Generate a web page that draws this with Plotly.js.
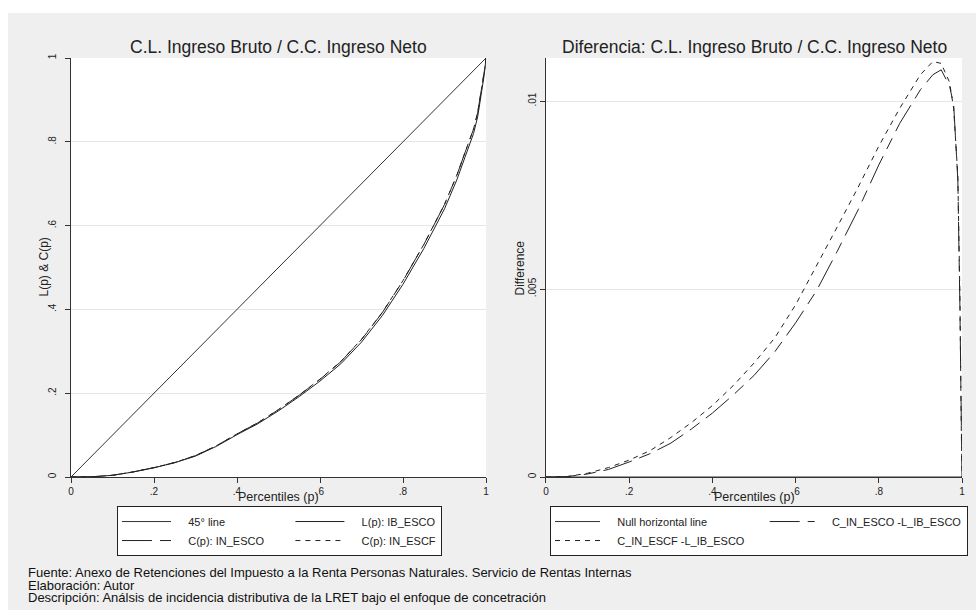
<!DOCTYPE html>
<html><head><meta charset="utf-8">
<script src="https://cdn.plot.ly/plotly-3.0.1.min.js"></script>
<style>
html,body{margin:0;padding:0;background:#fff;width:976px;height:610px;overflow:hidden}
#chart{position:absolute;left:8px;top:13px;width:968px;height:597px}
</style></head><body><div id="chart"></div><script>
// Percentiles (p)
const percentiles = [0, 0.05, 0.1, 0.15, 0.2, 0.25, 0.3, 0.35, 0.4, 0.45, 0.5, 0.55, 0.6, 0.65, 0.7, 0.75, 0.8, 0.85, 0.9, 0.93, 0.95, 0.97, 0.98, 0.99, 0.995, 0.998, 1];
// L(p): IB_ESCO
const lorenzIB_ESCO = [0, 0.0005, 0.004, 0.012, 0.022, 0.034, 0.050, 0.073, 0.101, 0.127, 0.158, 0.192, 0.229, 0.270, 0.322, 0.385, 0.460, 0.545, 0.640, 0.710, 0.765, 0.820, 0.860, 0.920, 0.955, 0.980, 1];
// C(p): IN_ESCO
const concIN_ESCO = [0, 0.00051, 0.00408, 0.0122, 0.0224, 0.03462, 0.0509, 0.07428, 0.1027, 0.12918, 0.1607, 0.19533, 0.2331, 0.27495, 0.328, 0.3921, 0.4683, 0.5544, 0.6503, 0.7207, 0.77583, 0.8304, 0.8699, 0.9279, 0.9595, 0.9813, 1];
// C(p): IN_ESCF
const concIN_ESCF = [0, 0.00051, 0.0041, 0.01225, 0.02245, 0.0347, 0.05105, 0.07445, 0.1029, 0.12943, 0.16103, 0.1957, 0.23358, 0.2756, 0.32865, 0.3927, 0.4688, 0.5548, 0.6507, 0.72105, 0.7761, 0.8305, 0.8698, 0.928, 0.9598, 0.9815, 1];
// C_IN_ESCO - L_IB_ESCO
const diffIN_ESCO = [0, 0.00001, 0.00008, 0.0002, 0.0004, 0.00062, 0.0009, 0.00128, 0.0017, 0.00218, 0.0027, 0.00333, 0.0041, 0.00495, 0.0060, 0.0071, 0.0083, 0.0094, 0.0103, 0.0107, 0.01083, 0.0104, 0.0099, 0.0079, 0.0045, 0.0013, 0];
// C_IN_ESCF - L_IB_ESCO
const diffIN_ESCF = [0, 0.00001, 0.0001, 0.00025, 0.00045, 0.0007, 0.00105, 0.00145, 0.0019, 0.00243, 0.00303, 0.0037, 0.00458, 0.0056, 0.00665, 0.0077, 0.0088, 0.0098, 0.0107, 0.01105, 0.0110, 0.0105, 0.0098, 0.0080, 0.0048, 0.0015, 0];
// reference lines
const diagonalX = [0, 1];
const diagonalY = [0, 1];
const nullLineX = [0, 1];
const nullLineY = [0, 0];

const xTickVals = [0, 0.2, 0.4, 0.6, 0.8, 1];
const xTickText = ['0', '.2', '.4', '.6', '.8', '1'];
const yTickVals = [0, 0.2, 0.4, 0.6, 0.8, 1];
const yTickText = ['0', '.2', '.4', '.6', '.8', '1'];
const y2TickVals = [0, 0.005, 0.01];
const y2TickText = ['0', '.005', '.01'];

const leftTitle = 'C.L. Ingreso Bruto / C.C. Ingreso Neto';
const rightTitle = 'Diferencia: C.L. Ingreso Bruto / C.C. Ingreso Neto';
const xTitle = 'Percentiles (p)';
const yTitleLeft = 'L(p) &amp; C(p)';
const yTitleRight = 'Difference';
const footerLines = [
  'Fuente: Anexo de Retenciones del Impuesto a la Renta Personas Naturales. Servicio de Rentas Internas',
  'Elaboración: Autor',
  'Descripción: Análsis de incidencia distributiva de la LRET bajo el enfoque de concetración'
];

const FONT = 'Liberation Sans, Arial, sans-serif';
const INK = '#222';
const sp = n => '\u00a0'.repeat(n);
const LEAD = sp(4);

const traces = [
  {x: diagonalX, y: diagonalY, name: LEAD + '45° line', mode: 'lines', line: {color: '#333', width: 1}, legendgroup: 'a', xaxis: 'x', yaxis: 'y', legend: 'legend'},
  {x: percentiles, y: lorenzIB_ESCO, name: LEAD + 'L(p): IB_ESCO', mode: 'lines', line: {color: INK, width: 1}, legendgroup: 'b', xaxis: 'x', yaxis: 'y', legend: 'legend'},
  {x: percentiles, y: concIN_ESCO, name: LEAD + 'C(p): IN_ESCO' + sp(7), mode: 'lines', line: {color: INK, width: 1, dash: '30px,8px,12px,8px'}, legendgroup: 'a', xaxis: 'x', yaxis: 'y', legend: 'legend'},
  {x: percentiles, y: concIN_ESCF, name: LEAD + 'C(p): IN_ESCF', mode: 'lines', line: {color: INK, width: 1, dash: '5px,5px'}, legendgroup: 'b', xaxis: 'x', yaxis: 'y', legend: 'legend'},
  {x: nullLineX, y: nullLineY, name: LEAD + 'Null horizontal line', mode: 'lines', line: {color: '#333', width: 1}, legendgroup: 'c', xaxis: 'x2', yaxis: 'y2', legend: 'legend2'},
  {x: percentiles, y: diffIN_ESCO, name: LEAD + 'C_IN_ESCO -L_IB_ESCO', mode: 'lines', line: {color: INK, width: 1, dash: '30px,8px,12px,8px'}, legendgroup: 'd', xaxis: 'x2', yaxis: 'y2', legend: 'legend2'},
  {x: percentiles, y: diffIN_ESCF, name: LEAD + 'C_IN_ESCF -L_IB_ESCO' + sp(5), mode: 'lines', line: {color: INK, width: 1, dash: '5px,5px'}, legendgroup: 'c', xaxis: 'x2', yaxis: 'y2', legend: 'legend2'}
];

const axisCommon = {
  showline: true, linecolor: '#333', linewidth: 1,
  ticks: 'outside', ticklen: 5, tickcolor: '#333', tickwidth: 1,
  zeroline: false, tickfont: {family: FONT, size: 10, color: INK},
  fixedrange: true
};

const legendCommon = {
  orientation: 'h', traceorder: 'grouped', xanchor: 'left', yanchor: 'top',
  bgcolor: '#ffffff', bordercolor: '#222', borderwidth: 1,
  font: {family: FONT, size: 11, color: INK}, tracegroupgap: 0
};

const titleFont = {family: FONT, size: 17.5, color: INK};
const axTitleFont = {family: FONT, size: 12.5, color: INK};
const footFont = {family: FONT, size: 13, color: '#111'};

const layout = {
  width: 968, height: 597,
  margin: {l: 63, r: 14, t: 45, b: 133, autoexpand: false},
  paper_bgcolor: '#efefef', plot_bgcolor: '#ffffff',
  showlegend: true,
  font: {family: FONT, color: INK},
  xaxis: Object.assign({}, axisCommon, {domain: [0, 0.46577], range: [0, 1], anchor: 'y',
    tickvals: xTickVals, ticktext: xTickText, showgrid: false}),
  yaxis: Object.assign({}, axisCommon, {domain: [0, 1], range: [0, 1], anchor: 'x',
    tickvals: yTickVals, ticktext: yTickText, tickangle: -90, showgrid: true, gridcolor: '#e6e6e6',
    ticklabelstandoff: 5}),
  xaxis2: Object.assign({}, axisCommon, {domain: [0.5331, 1], range: [0, 1], anchor: 'y2',
    tickvals: xTickVals, ticktext: xTickText, showgrid: false}),
  yaxis2: Object.assign({}, axisCommon, {domain: [0, 1], range: [0, 0.011144], anchor: 'x2',
    tickvals: y2TickVals, ticktext: y2TickText, tickangle: -90, showgrid: true, gridcolor: '#e6e6e6'}),
  legend: Object.assign({}, legendCommon, {x: 0.0516, y: -0.0693, itemwidth: 49}),
  legend2: Object.assign({}, legendCommon, {x: 0.5376, y: -0.0693, itemwidth: 45}),
  annotations: [
    {text: leftTitle, xref: 'paper', yref: 'paper', x: 0.2329, y: 1.0263, xanchor: 'center', yanchor: 'middle', showarrow: false, font: titleFont},
    {text: rightTitle, xref: 'paper', yref: 'paper', x: 0.7666, y: 1.0263, xanchor: 'center', yanchor: 'middle', showarrow: false, font: titleFont},
    {text: xTitle, xref: 'paper', yref: 'paper', x: 0.2329, y: -0.0477, xanchor: 'center', yanchor: 'middle', showarrow: false, font: axTitleFont},
    {text: xTitle, xref: 'paper', yref: 'paper', x: 0.7666, y: -0.0477, xanchor: 'center', yanchor: 'middle', showarrow: false, font: axTitleFont},
    {text: yTitleLeft, xref: 'paper', yref: 'paper', x: -0.0314, y: 0.5, textangle: -90, xanchor: 'center', yanchor: 'middle', showarrow: false, font: {family: FONT, size: 12, color: INK}},
    {text: yTitleRight, xref: 'paper', yref: 'paper', x: 0.5039, y: 0.5, textangle: -90, xanchor: 'center', yanchor: 'middle', showarrow: false, font: {family: FONT, size: 12, color: INK}},
    {text: footerLines[0], xref: 'paper', yref: 'paper', x: -0.0505, y: -0.2291, xanchor: 'left', yanchor: 'middle', showarrow: false, font: footFont},
    {text: footerLines[1], xref: 'paper', yref: 'paper', x: -0.0505, y: -0.2578, xanchor: 'left', yanchor: 'middle', showarrow: false, font: footFont},
    {text: footerLines[2], xref: 'paper', yref: 'paper', x: -0.0505, y: -0.2864, xanchor: 'left', yanchor: 'middle', showarrow: false, font: footFont}
  ]
};

Plotly.newPlot('chart', traces, layout, {staticPlot: true, displayModeBar: false});
</script></body></html>
